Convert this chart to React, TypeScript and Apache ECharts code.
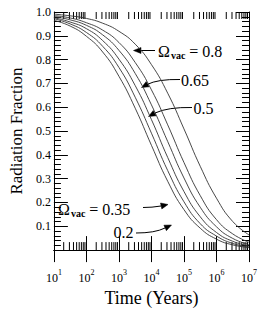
import React, { useEffect, useRef } from "react";
import * as echarts from "echarts";

// ---- data ----
const timeYears = [10, 31.6, 100, 316, 1000, 3162, 10000, 31623, 100000, 316228, 1000000, 3162278, 10000000];
const fracVac000 = [0.965, 0.941, 0.898, 0.832, 0.73, 0.596, 0.44, 0.289, 0.17, 0.092, 0.046, 0.022, 0.0105];
const fracVac020 = [0.972, 0.95, 0.914, 0.856, 0.767, 0.642, 0.491, 0.334, 0.203, 0.111, 0.059, 0.028, 0.013];
const fracVac035 = [0.976, 0.958, 0.93, 0.88, 0.802, 0.691, 0.548, 0.389, 0.246, 0.14, 0.074, 0.037, 0.017];
const fracVac050 = [0.981, 0.967, 0.944, 0.904, 0.839, 0.742, 0.61, 0.456, 0.303, 0.18, 0.098, 0.049, 0.0235];
const fracVac065 = [0.985, 0.975, 0.955, 0.924, 0.872, 0.788, 0.673, 0.526, 0.368, 0.229, 0.128, 0.068, 0.033];
const fracVac080 = [0.991, 0.984, 0.973, 0.953, 0.919, 0.865, 0.779, 0.659, 0.509, 0.352, 0.218, 0.12, 0.064];

const tickDecades = [10, 100, 1000, 10000, 100000, 1000000];
const tickMultipliers = [2, 3, 4, 5, 6, 7, 8, 9];

const xAxisTitle = "Time (Years)";
const yAxisTitle = "Radiation Fraction";

const SERIF = "Liberation Serif, serif";
const INK = "#000";
const CURVE = "#333";

export default function App() {
  const ref = useRef<HTMLDivElement>(null);

  useEffect(() => {
    if (!ref.current) return;
    const chart = echarts.init(ref.current, undefined, { renderer: "svg" });

    const curves = [fracVac000, fracVac020, fracVac035, fracVac050, fracVac065, fracVac080];
    const minorTicks: number[][] = [];
    tickDecades.forEach((d) => tickMultipliers.forEach((m) => minorTicks.push([d * m, 0])));

    const lineSeries = curves.map((vals) => ({
      type: "line",
      xAxisIndex: 0,
      yAxisIndex: 0,
      data: timeYears.map((t, i) => [t, vals[i]]),
      showSymbol: false,
      symbol: "none",
      smooth: 0.5,
      lineStyle: { color: CURVE, width: 0.9 },
      silent: true,
      z: 3,
    }));

    const tickStyle = { stroke: INK, lineWidth: 1 };

    const arrowStyle = { stroke: INK, lineWidth: 1, fill: "none" };
    const headStyle = { fill: INK, stroke: INK, lineWidth: 0.5 };

    const omegaRich = {
      o: { fontFamily: SERIF, fontSize: 16, color: INK },
      v: { fontFamily: SERIF, fontSize: 10, fontWeight: "bold", color: INK, padding: [8, 0, 0, 1] },
      t: { fontFamily: SERIF, fontSize: 16, color: INK },
    };

    const option: any = {
      animation: false,
      backgroundColor: "#fff",
      textStyle: { fontFamily: SERIF },
      grid: { left: 43, right: 15, top: 12, bottom: 38 },
      xAxis: [
        {
          type: "log",
          logBase: 10,
          min: 10,
          max: 10000000,
          position: "bottom",
          name: xAxisTitle,
          nameLocation: "middle",
          nameGap: 30,
          nameTextStyle: { fontFamily: SERIF, fontSize: 18, color: INK },
          axisLine: { show: true, lineStyle: { color: INK, width: 1 } },
          axisTick: { show: true, inside: true, length: 14, lineStyle: { color: INK } },
          splitLine: { show: false },
          axisLabel: {
            margin: 18,
            formatter: (v: number) => `{b|10}{s|${Math.round(Math.log10(v))}}`,
            rich: {
              b: { fontFamily: SERIF, fontSize: 12, color: INK, lineHeight: 16, verticalAlign: "bottom" },
              s: { fontFamily: SERIF, fontSize: 8, color: INK, verticalAlign: "top", lineHeight: 8 },
            },
          },
        },
        {
          type: "log",
          logBase: 10,
          min: 10,
          max: 10000000,
          position: "top",
          axisLine: { show: true, lineStyle: { color: INK, width: 1 } },
          axisTick: { show: true, inside: true, length: 12, lineStyle: { color: INK } },
          axisLabel: { show: false },
          splitLine: { show: false },
        },
      ],
      yAxis: [
        {
          type: "value",
          min: 0,
          max: 1,
          interval: 0.1,
          position: "left",
          name: yAxisTitle,
          nameLocation: "middle",
          nameGap: 28,
          nameTextStyle: { fontFamily: SERIF, fontSize: 17, color: INK },
          axisLine: { show: true, lineStyle: { color: INK, width: 1 } },
          axisTick: { show: true, inside: true, length: 14, lineStyle: { color: INK } },
          minorTick: { show: true, splitNumber: 5, length: 7, lineStyle: { color: INK } },
          splitLine: { show: false },
          axisLabel: {
            margin: 3,
            fontFamily: SERIF,
            fontSize: 12,
            color: INK,
            formatter: (v: number) => (v < 0.001 ? "" : v.toFixed(1)),
          },
        },
        {
          type: "value",
          min: 0,
          max: 1,
          interval: 0.1,
          position: "right",
          axisLine: { show: true, lineStyle: { color: INK, width: 1 } },
          axisTick: { show: true, inside: true, length: 13, lineStyle: { color: INK } },
          minorTick: { show: true, splitNumber: 5, length: 7, lineStyle: { color: INK } },
          splitLine: { show: false },
          axisLabel: { show: false },
        },
      ],
      series: [
        ...lineSeries,
        {
          type: "custom",
          xAxisIndex: 0,
          yAxisIndex: 0,
          silent: true,
          clip: false,
          data: minorTicks,
          encode: { x: 0, y: 1 },
          renderItem: (_p: any, api: any) => {
            const v = api.value(0);
            const pb = api.coord([v, 0]);
            const pt = api.coord([v, 1]);
            return {
              type: "group",
              children: [
                { type: "line", shape: { x1: pb[0], y1: pb[1], x2: pb[0], y2: pb[1] - 8 }, style: tickStyle },
                { type: "line", shape: { x1: pt[0], y1: pt[1], x2: pt[0], y2: pt[1] + 7 }, style: tickStyle },
              ],
            };
          },
        },
      ],
      graphic: [
        // Omega_vac = 0.8
        {
          type: "text",
          x: 158,
          y: 51,
          style: { text: "{o|Ω}{v|vac}{t| = 0.8}", rich: omegaRich, align: "left", verticalAlign: "middle" },
        },
        { type: "line", shape: { x1: 155, y1: 50.5, x2: 139, y2: 50.5 }, style: arrowStyle },
        { type: "polygon", shape: { points: [[133.5, 50.5], [141, 47.5], [141, 53.5]] }, style: headStyle },
        // 0.65
        {
          type: "text",
          x: 181,
          y: 80,
          style: { text: "0.65", fontFamily: SERIF, fontSize: 16, fill: INK, align: "left", verticalAlign: "middle" },
        },
        { type: "bezierCurve", shape: { x1: 180, y1: 79.5, cpx1: 158, cpy1: 79, x2: 147, y2: 84.5 }, style: arrowStyle },
        { type: "polygon", shape: { points: [[141.5, 87.5], [149.1, 86.8], [146.2, 81.5]] }, style: headStyle },
        // 0.5
        {
          type: "text",
          x: 193.5,
          y: 108,
          style: { text: "0.5", fontFamily: SERIF, fontSize: 16, fill: INK, align: "left", verticalAlign: "middle" },
        },
        { type: "bezierCurve", shape: { x1: 192, y1: 107.5, cpx1: 168, cpy1: 107, x2: 155, y2: 113 }, style: arrowStyle },
        { type: "polygon", shape: { points: [[148.5, 116.5], [156.1, 115.8], [153.2, 110.5]] }, style: headStyle },
        // Omega_vac = 0.35
        {
          type: "text",
          x: 58,
          y: 209,
          style: { text: "{o|Ω}{v|vac}{t| = 0.35}", rich: omegaRich, align: "left", verticalAlign: "middle" },
        },
        { type: "bezierCurve", shape: { x1: 143, y1: 207.5, cpx1: 152, cpy1: 207.5, x2: 161, y2: 206 }, style: arrowStyle },
        { type: "polygon", shape: { points: [[168, 204.5], [161.8, 208.9], [160.5, 203.0]] }, style: headStyle },
        // 0.2
        {
          type: "text",
          x: 113.5,
          y: 232.5,
          style: { text: "0.2", fontFamily: SERIF, fontSize: 16, fill: INK, align: "left", verticalAlign: "middle" },
        },
        { type: "bezierCurve", shape: { x1: 136, y1: 233, cpx1: 155, cpy1: 233, x2: 165, y2: 228 }, style: arrowStyle },
        { type: "polygon", shape: { points: [[171.5, 225], [166.4, 230.65], [163.9, 225.2]] }, style: headStyle },
      ],
    };

    chart.setOption(option);
    return () => chart.dispose();
  }, []);

  return (
    <div
      ref={ref}
      style={{ position: "fixed", left: 0, top: 0, width: 264, height: 312, background: "#fff" }}
    />
  );
}
